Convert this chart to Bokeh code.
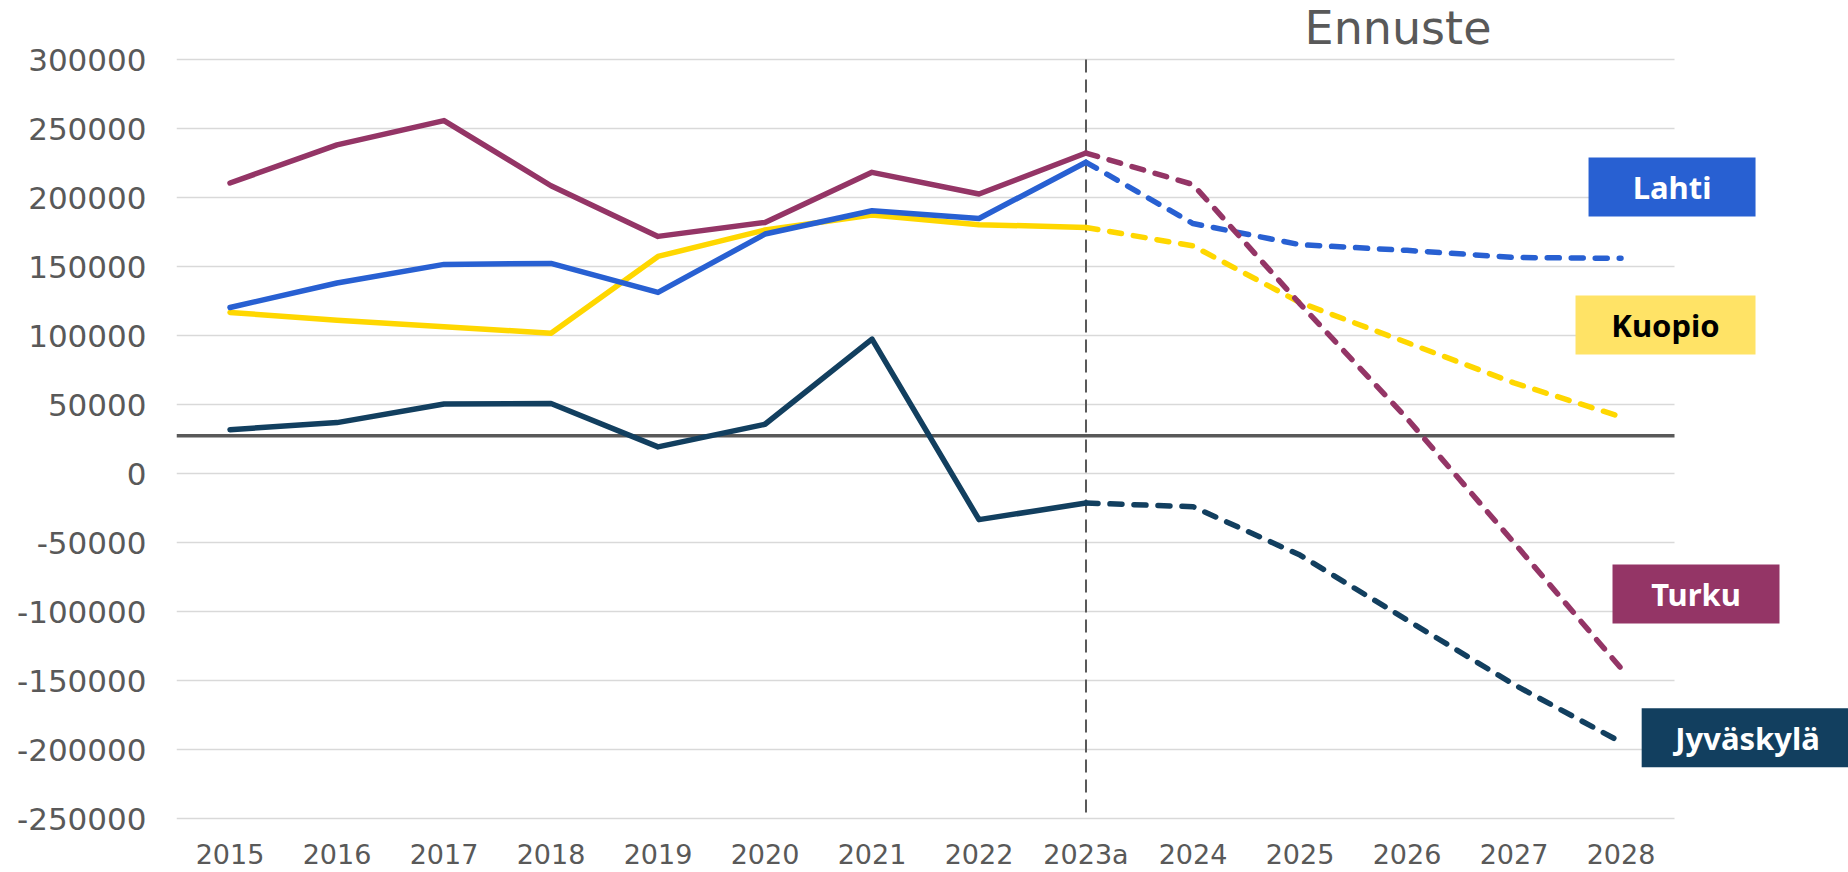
from bokeh.plotting import figure
from bokeh.models import FixedTicker, Range1d, NumeralTickFormatter
from bokeh.core.properties import value
from bokeh.embed import file_html
from bokeh.resources import INLINE

# ---- data ----
years = ["2015", "2016", "2017", "2018", "2019", "2020", "2021", "2022",
         "2023a", "2024", "2025", "2026", "2027", "2028"]
forecast_start = "2023a"

turku_hist = [210600, 238200, 255800, 208600, 171900, 182000, 218300, 202600, 232300]
turku_fc = [232300, 209500, 123000, 40000, -50000, -141000]
lahti_hist = [120400, 138100, 151600, 152300, 131300, 173600, 190500, 184900, 225600]
lahti_fc = [225600, 181200, 165900, 161800, 156600, 156000]
kuopio_hist = [116800, 111200, 106400, 101800, 157400, 176500, 187400, 180400, 178400]
kuopio_fc = [178400, 165000, 124000, 95000, 65800, 41200]
jkl_hist = [31900, 37000, 50500, 50800, 19400, 35800, 97500, -33300, -21300]
jkl_fc = [-21300, -23900, -59000, -106000, -152800, -194500]

y_ticks = [-250000, -200000, -150000, -100000, -50000, 0,
           50000, 100000, 150000, 200000, 250000, 300000]
baseline_value = 27500

series_names = ["Kuopio", "Jyväskylä", "Lahti", "Turku"]
series_hist = [kuopio_hist, jkl_hist, lahti_hist, turku_hist]
series_fc = [kuopio_fc, jkl_fc, lahti_fc, turku_fc]

label_names = ["Lahti", "Kuopio", "Turku", "Jyväskylä"]

# ---- layout / style ----
xs = list(range(len(years)))
split = years.index(forecast_start)
hist_x = xs[:split + 1]
fc_x = xs[split:]
x_lo = -0.5
x_hi = len(years) - 0.5
PX_PER_CAT = 107.0
FRAME_W = 1672
FRAME_H = 821

line_colors = ["#FFD700", "#123F5F", "#2860D2", "#943566"]
label_y = [207600, 107700, -87200, -191300]
box_x = [13.477, 13.416, 13.701, 14.268]
text_x = [13.477, 13.416, 13.701, 14.182]
label_w = [167, 180, 167, 230]
label_fill = ["#2860D2", "#FFE366", "#943566", "#123F5F"]
label_text_color = ["white", "black", "white", "white"]

GREY = "#595959"

p = figure(x_range=Range1d(x_lo, x_lo + FRAME_W / PX_PER_CAT),
           y_range=Range1d(-252000, 342800),
           frame_width=FRAME_W, frame_height=FRAME_H,
           output_backend="svg", toolbar_location=None,
           min_border_left=176, min_border_right=0,
           min_border_top=0, min_border_bottom=0)

p.outline_line_color = None
p.background_fill_color = "white"
p.xgrid.grid_line_color = None
p.ygrid.grid_line_color = "#d9d9d9"
p.ygrid.grid_line_width = 1.5
p.ygrid.cross_bounds = (x_lo, x_hi)
p.yaxis.ticker = FixedTicker(ticks=y_ticks)
p.yaxis.formatter = NumeralTickFormatter(format="0")
p.xaxis.ticker = FixedTicker(ticks=xs)
p.xaxis.major_label_overrides = {i: y for i, y in zip(xs, years)}

for ax in (p.xaxis, p.yaxis):
    ax.axis_line_color = None
    ax.major_tick_line_color = None
    ax.minor_tick_line_color = None
    ax.major_tick_out = 0
    ax.major_tick_in = 0
    ax.minor_tick_out = 0
    ax.major_label_text_color = GREY
    ax.major_label_text_font = "DejaVu Sans"

p.yaxis.major_label_text_font_size = "31px"
p.yaxis.major_label_standoff = 30
p.xaxis.major_label_text_font_size = "27px"
p.xaxis.major_label_standoff = 17

# baseline and forecast divider
p.segment(x0=[x_lo], y0=[baseline_value], x1=[x_hi], y1=[baseline_value],
          line_color=GREY, line_width=3.5)
p.segment(x0=[split], y0=[y_ticks[-1]], x1=[split], y1=[y_ticks[0]],
          line_color=GREY, line_width=2, line_dash="13 7")

for name, h, f, c in zip(series_names, series_hist, series_fc, line_colors):
    p.line(hist_x, h, line_color=c, line_width=5.5, line_join="round", line_cap="round")
    p.line(fc_x, f, line_color=c, line_width=5.5, line_dash="12 12",
           line_join="round", line_cap="round")

p.text(x=[10.916], y=[323200], text=["Ennuste"], text_align="center",
       text_baseline="middle", text_font=value("DejaVu Sans"),
       text_font_size="46px", text_color=GREY)

p.rect(x=box_x, y=label_y, width=label_w, height=59,
       width_units="screen", height_units="screen",
       fill_color=label_fill, line_color=None)
p.text(x=text_x, y=label_y, text=label_names, text_align="center",
       text_baseline="middle", text_font=value("Noto Sans"),
       text_font_style="bold", text_font_size="31px", text_color=label_text_color)

open("out.html", "w").write(file_html(p, INLINE))
